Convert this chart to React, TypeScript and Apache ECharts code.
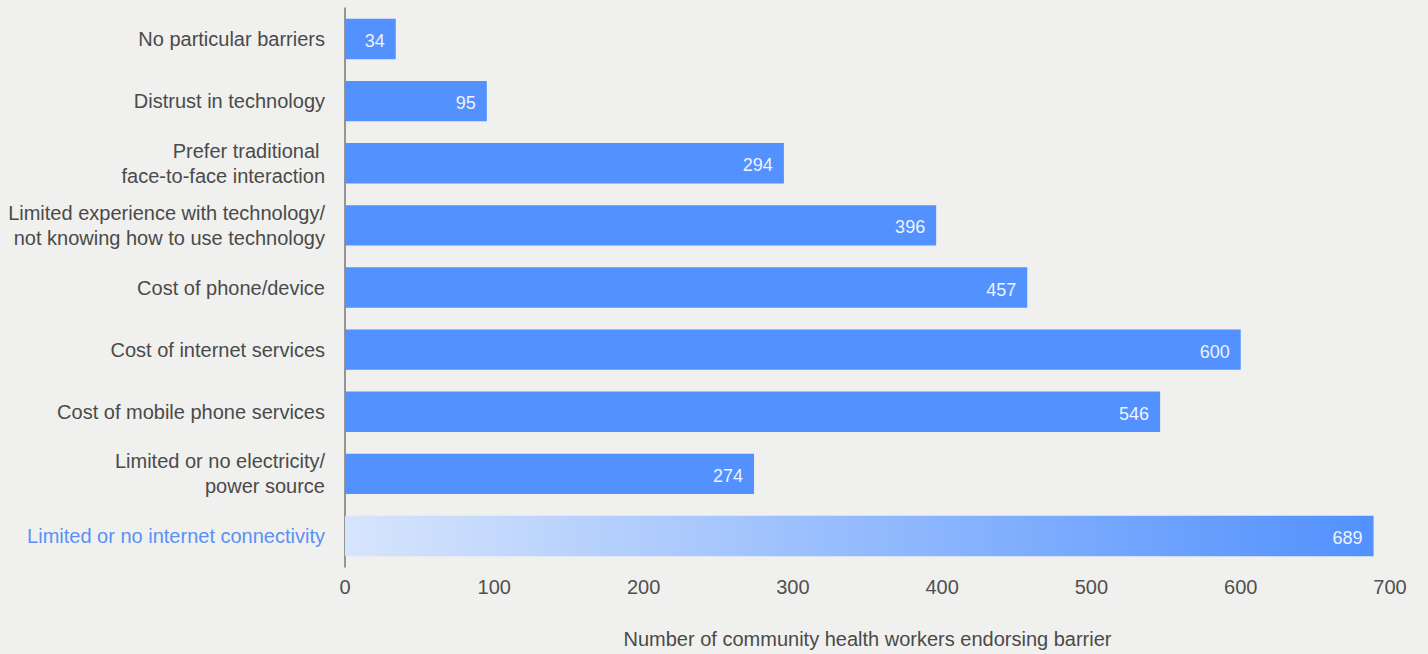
import React, { useEffect, useRef } from "react";
import * as echarts from "echarts";

const categories = [
  "No particular barriers",
  "Distrust in technology",
  "Prefer traditional \nface-to-face interaction",
  "Limited experience with technology/\nnot knowing how to use technology",
  "Cost of phone/device",
  "Cost of internet services",
  "Cost of mobile phone services",
  "Limited or no electricity/\npower source",
  "Limited or no internet connectivity",
];
const values = [34, 95, 294, 396, 457, 600, 546, 274, 689];
const highlightIndex = 8;
const axisTitle = "Number of community health workers endorsing barrier";

const FONT = "'Liberation Sans', Arial, sans-serif";
const BAR = "#5291fe";

export default function App() {
  const ref = useRef<HTMLDivElement>(null);
  useEffect(() => {
    if (!ref.current) return;
    const chart = echarts.init(ref.current, undefined, { renderer: "svg" });
    chart.setOption({
      animation: false,
      backgroundColor: "#f0f0ee",
      grid: { left: 345, right: 38, top: 8, bottom: 81, containLabel: false },
      xAxis: {
        type: "value",
        min: 0,
        max: 700,
        interval: 100,
        axisLine: { show: false },
        axisTick: { show: false },
        splitLine: { show: false },
        axisLabel: { color: "#505050", fontSize: 20, fontFamily: FONT, margin: 10 },
        name: axisTitle,
        nameLocation: "middle",
        nameGap: 62,
        nameTextStyle: { color: "#4a4a4a", fontSize: 20, fontFamily: FONT },
      },
      yAxis: {
        type: "category",
        inverse: true,
        data: categories,
        axisLine: { show: true, lineStyle: { color: "#777", width: 1.5 } },
        axisTick: { show: false },
        splitLine: { show: false },
        axisLabel: {
          fontSize: 20,
          fontFamily: FONT,
          lineHeight: 25,
          margin: 20,
          color: (_v: string, idx: number) => (idx === highlightIndex ? "#5a90f5" : "#4a4a4a"),
        },
      },
      series: [
        {
          type: "bar",
          barCategoryGap: "35%",
          data: values.map((v, i) =>
            i === highlightIndex
              ? {
                  value: v,
                  itemStyle: {
                    color: new echarts.graphic.LinearGradient(0, 0, 1, 0, [
                      { offset: 0, color: "#d7e5fc" },
                      { offset: 1, color: "#5291fe" },
                    ]),
                  },
                }
              : v
          ),
          itemStyle: { color: BAR },
          label: {
            show: true,
            position: "insideRight",
            distance: 11,
            color: "#eef3ff",
            fontSize: 18,
            fontFamily: FONT,
            offset: [0, 2],
          },
        },
      ],
    });
    return () => chart.dispose();
  }, []);
  return <div ref={ref} style={{ width: 1428, height: 654, position: "absolute", left: 0, top: 0 }} />;
}
